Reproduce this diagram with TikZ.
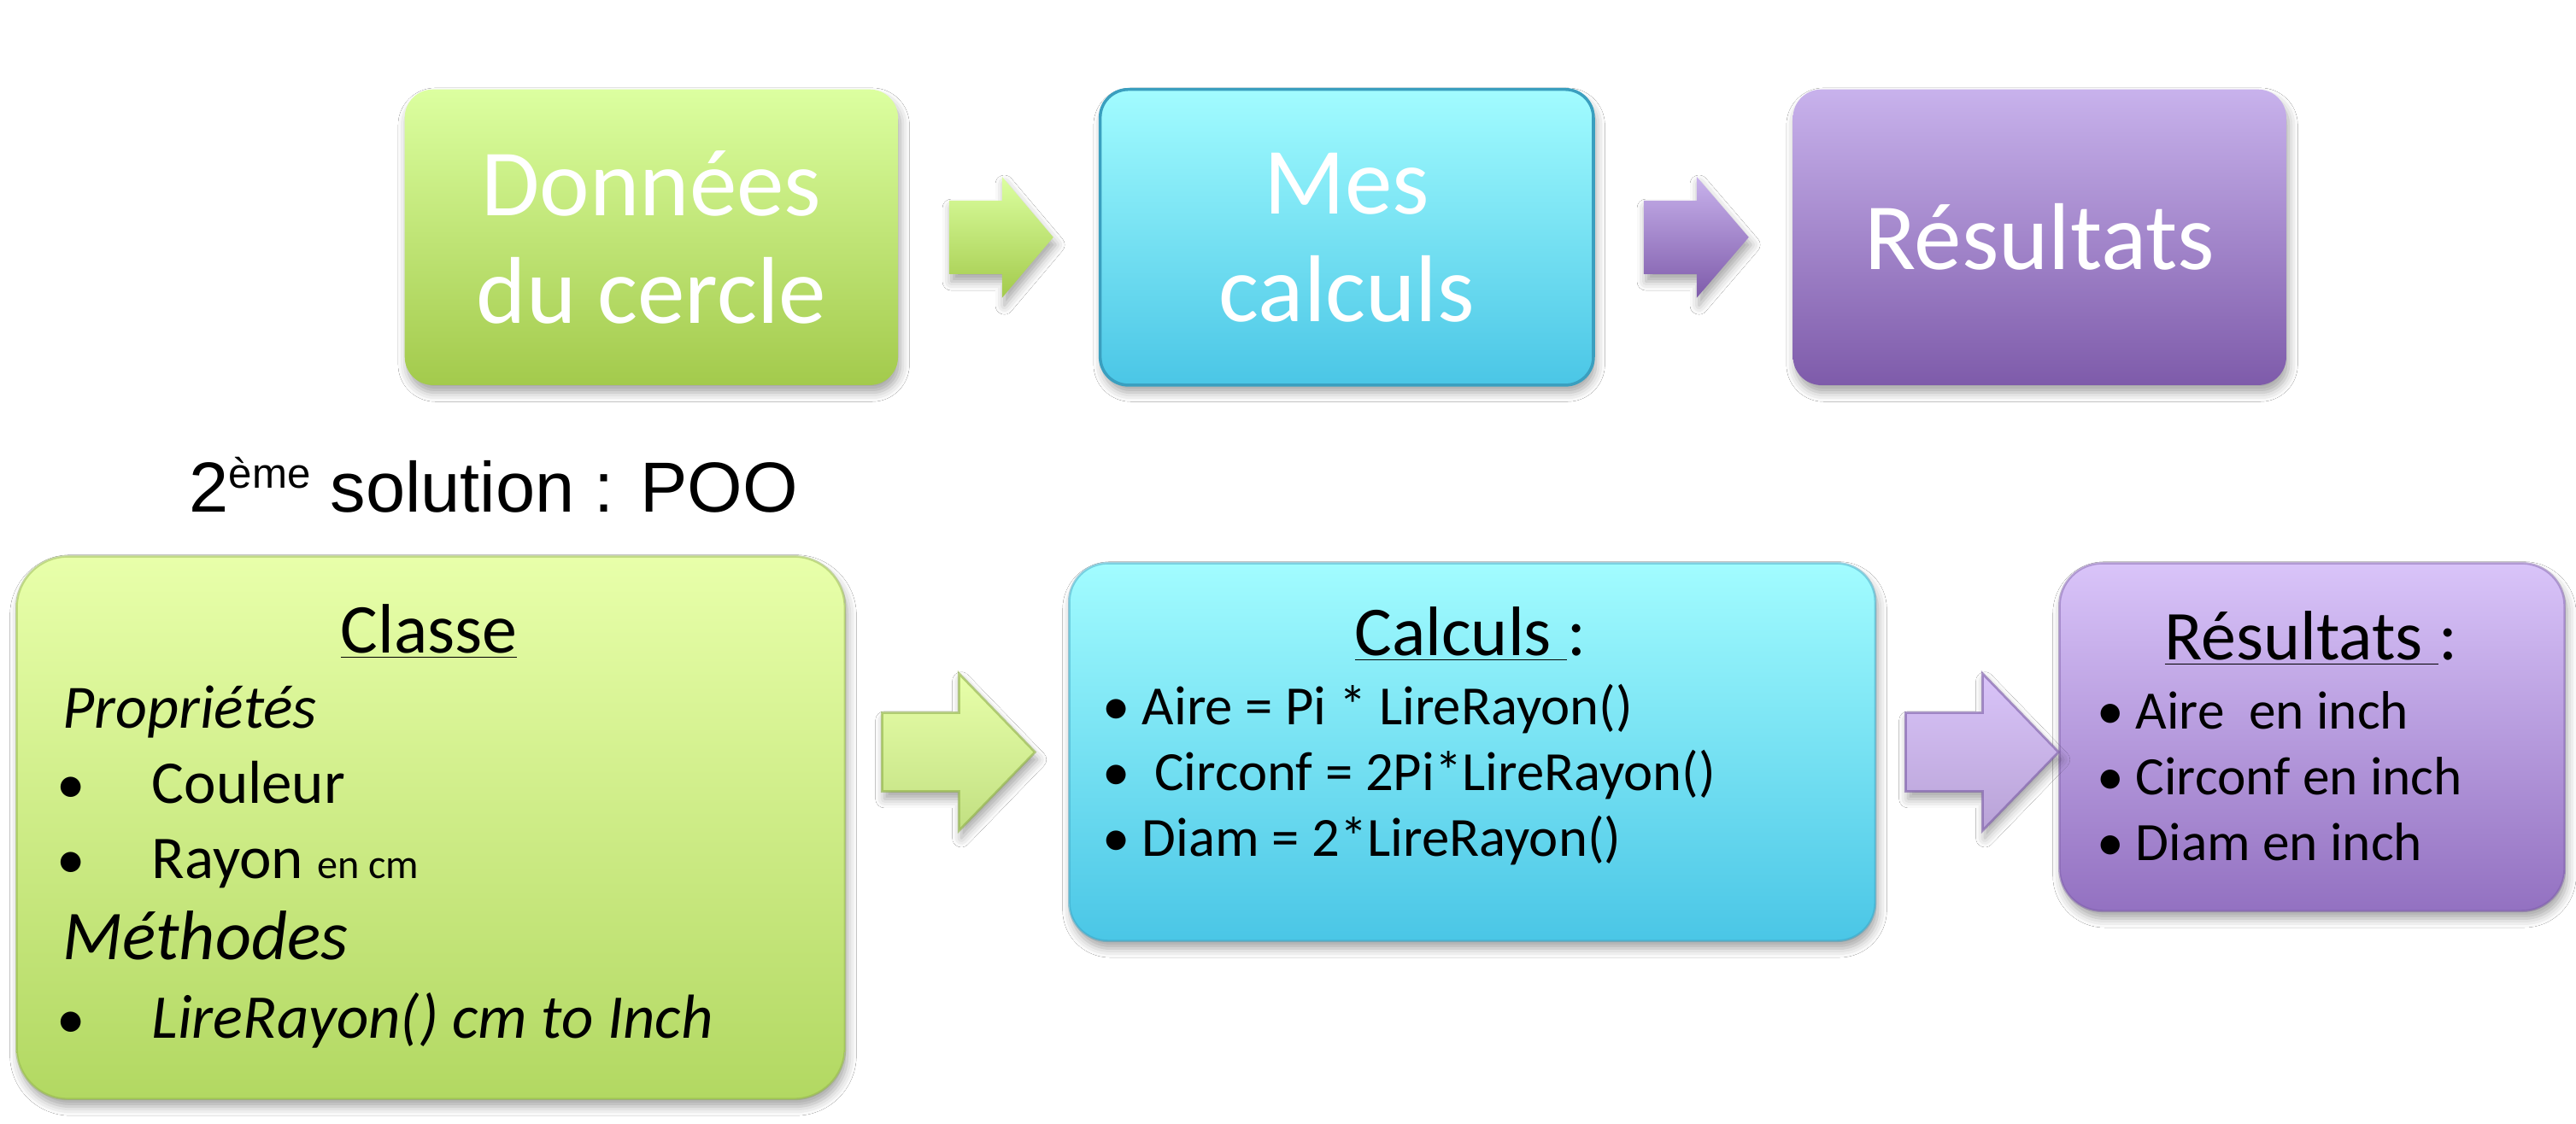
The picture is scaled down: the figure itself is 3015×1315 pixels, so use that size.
\documentclass[tikz,border=0pt]{standalone}
\usepackage{fontspec}
\setmainfont{Carlito}
\newfontfamily\arialfont{Liberation Sans}
\usetikzlibrary{positioning,calc,shadows.blur}
\definecolor{greenTop}{HTML}{DCFFA0}
\definecolor{greenBot}{HTML}{A3CA4C}
\definecolor{cyanTop}{HTML}{A2FCFF}
\definecolor{cyanBot}{HTML}{4AC6E6}
\definecolor{cyanEdge}{HTML}{3A9FBF}
\definecolor{violetTop}{HTML}{C8B2EC}
\definecolor{violetBot}{HTML}{7E5BAA}
\definecolor{lgreenTop}{HTML}{E8FFAA}
\definecolor{lgreenBot}{HTML}{B2D862}
\definecolor{lgreenEdge}{HTML}{8FB048}
\definecolor{lvioletTop}{HTML}{D9C4F9}
\definecolor{lvioletBot}{HTML}{9371C1}
\definecolor{lvioletEdge}{HTML}{7A5BA6}
\tikzset{
  softshadow/.style={blur shadow={shadow xshift=0.8pt, shadow yshift=-2.5pt,
    shadow blur radius=3pt, shadow opacity=35}},
  bigbox/.style={rounded corners=0.33cm, minimum width=5.77cm, minimum height=3.46cm,
    align=center, text=white, inner sep=0pt, softshadow,
    font=\fontsize{31.6pt}{35.8pt}\selectfont},
  greenbox/.style={bigbox, top color=greenTop, bottom color=greenBot},
  cyanbox/.style={bigbox, top color=cyanTop, bottom color=cyanBot, draw=cyanEdge, line width=1pt},
  violetbox/.style={bigbox, top color=violetTop, bottom color=violetBot},
  panel/.style={inner sep=0pt, softshadow, line width=0.8pt, draw opacity=0.45},
  greenpanel/.style={panel, rounded corners=0.6cm, top color=lgreenTop, bottom color=lgreenBot, draw=lgreenEdge},
  cyanpanel/.style={panel, rounded corners=0.45cm, top color=cyanTop, bottom color=cyanBot, draw=cyanEdge},
  violetpanel/.style={panel, rounded corners=0.5cm, top color=lvioletTop, bottom color=lvioletBot, draw=lvioletEdge},
  greenarr/.style={top color=greenTop, bottom color=greenBot, softshadow},
  violetarr/.style={top color=violetTop, bottom color=violetBot, softshadow},
  greenbevel/.style={top color=lgreenTop, bottom color=lgreenBot!80!white, draw=lgreenEdge,
    draw opacity=0.6, line width=0.8pt, softshadow},
  violetbevel/.style={top color=lvioletTop, bottom color=lvioletBot!65!white, draw=lvioletEdge,
    draw opacity=0.6, line width=0.8pt, softshadow},
  hdr/.style={anchor=base, inner sep=0pt, font=\fontsize{23.3pt}{28pt}\selectfont},
  itemtxt/.style={anchor=base west, inner sep=0pt},
  dotmark/.style={anchor=base, inner sep=0pt}
}
\begin{document}
\begin{tikzpicture}[x=0.01cm, y=-0.01cm]
  \path[use as bounding box, fill=white] (0,0) rectangle (3015,1315);
  % first solution
  \node[greenbox, anchor=north west] (donnees) at (473,104) {Données\\du cercle};
  \node[cyanbox, right=2.34cm of donnees] (mescalculs) {Mes\\calculs};
  \node[violetbox, right=2.31cm of mescalculs] (resultats) {Résultats};
  \path[greenarr] ($(donnees.east)+(59,0)$) ++(0,-43) -- ++(62,0) -- ++(0,-28) -- ++(60,71)
    -- ++(-60,71) -- ++(0,-28) -- ++(-62,0) -- cycle;
  \path[violetarr] ($(mescalculs.east)+(57,0)$) ++(0,-43) -- ++(62,0) -- ++(0,-28) -- ++(61,71)
    -- ++(-61,71) -- ++(0,-28) -- ++(-62,0) -- cycle;
  \node[anchor=base west, inner sep=0pt, font=\arialfont\fontsize{23.6pt}{28pt}\selectfont] (poo) at (221,599)
    {2\raisebox{0.33em}{\fontsize{14pt}{16pt}\selectfont ème} solution : POO};
  % second solution
  \node[greenpanel, minimum width=9.69cm, minimum height=6.35cm, anchor=north west] (classe) at (18,650) {};
  \node[cyanpanel, minimum width=9.43cm, minimum height=4.42cm, anchor=north west] (calculs) at (1250,658) {};
  \node[violetpanel, minimum width=5.91cm, minimum height=4.07cm, anchor=north west] (resfinal) at (2409,658) {};
  \path[greenbevel] ($(classe.east |- calculs.west)+(42,0)$) ++(0,-46) -- ++(90,0) -- ++(0,-46) -- ++(89,92)
    -- ++(-89,92) -- ++(0,-46) -- ++(-90,0) -- cycle;
  \path[violetbevel] ($(calculs.east)+(34,0)$) ++(0,-46) -- ++(90,0) -- ++(0,-46) -- ++(89,92)
    -- ++(-89,92) -- ++(0,-46) -- ++(-90,0) -- cycle;
  % class box
  \node[hdr] (classehdr) at (502,764) {\underline{Classe}};
  \node[itemtxt, font=\itshape\fontsize{20.5pt}{24pt}\selectfont] (props) at (73,852) {Propriétés};
  \foreach \y in {940,1028,1215}
    \node[dotmark, font=\fontsize{19pt}{23pt}\selectfont] (dot\y) at (83,\y) {•};
  \node[itemtxt, font=\fontsize{20.2pt}{24pt}\selectfont] (couleur) at (177,940) {Couleur};
  \node[itemtxt, font=\fontsize{20.2pt}{24pt}\selectfont] (rayon) at (177,1028)
    {Rayon {\fontsize{13.7pt}{16pt}\selectfont en cm}};
  \node[itemtxt, font=\itshape\fontsize{23.3pt}{27pt}\selectfont] (methodes) at (73,1123) {Méthodes};
  \node[itemtxt, font=\itshape\fontsize{20.7pt}{24pt}\selectfont] (lirerayon) at (177,1215) {LireRayon() cm to Inch};
  % calculations box
  \node[hdr] (calchdr) at (1721,767) {\underline{Calculs\ }:};
  \foreach \y/\txt [count=\i] in {848/Aire = Pi * LireRayon(), 925/\ Circonf = 2Pi*LireRayon(), 1002/Diam = 2*LireRayon()} {
    \node[dotmark, font=\fontsize{18.4pt}{22pt}\selectfont] (cdot\i) at (1307,\y) {•};
    \node[itemtxt, font=\fontsize{18.4pt}{22pt}\selectfont] (calc\i) at (1336,\y) {\txt};
  }
  % results box
  \node[hdr] (reshdr) at (2705,772) {\underline{Résultats\ }:};
  \foreach \y/\txt [count=\i] in {853/Aire\ \ en inch, 930/Circonf en inch, 1007/Diam en inch} {
    \node[dotmark, font=\fontsize{18pt}{21pt}\selectfont] (rdot\i) at (2470,\y) {•};
    \node[itemtxt, font=\fontsize{18pt}{21pt}\selectfont] (res\i) at (2499,\y) {\txt};
  }
\end{tikzpicture}
\end{document}
